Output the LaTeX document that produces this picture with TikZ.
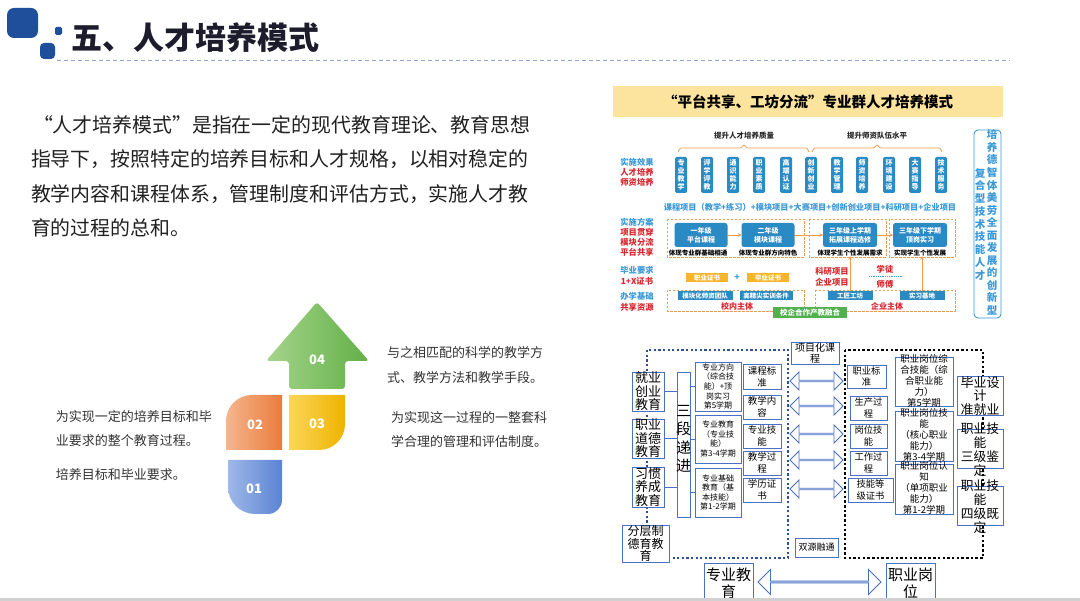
\documentclass[tikz,border=0pt]{standalone}
\usepackage{fontspec}
\setmainfont{Noto Sans CJK SC}
\usetikzlibrary{shapes.arrows,arrows.meta,calc}
\newcommand\fsz[2]{\fontsize{#1}{#2}\selectfont}
\definecolor{logo}{HTML}{1F4E9A}
\definecolor{ttl}{HTML}{1C1C2C}
\definecolor{dashc}{HTML}{8DA3C9}
\definecolor{cb}{HTML}{2A8AC4}
\definecolor{lb}{HTML}{3A9AD9}
\definecolor{rd}{HTML}{D7282F}
\definecolor{og}{HTML}{F29A4B}
\definecolor{certc}{HTML}{F7B52C}
\definecolor{gr}{HTML}{52B04E}
\definecolor{ban}{HTML}{FCE39E}
\definecolor{bx}{HTML}{4A72C4}
\definecolor{dotb}{HTML}{2D4E9C}
\definecolor{gA}{HTML}{A5D48C}
\definecolor{gB}{HTML}{62B046}
\definecolor{oA}{HTML}{F4B68E}
\definecolor{oB}{HTML}{EB7B3C}
\definecolor{yA}{HTML}{FAD65A}
\definecolor{yB}{HTML}{EFB300}
\definecolor{bA}{HTML}{9FB8E8}
\definecolor{bB}{HTML}{5A83D4}
\begin{document}
\begin{tikzpicture}[x=1pt,y=-1pt,
  every node/.style={inner sep=0pt, outer sep=0pt},
  para/.style={anchor=west, text=black!87, font=\fsz{19.9}{24}},
  side/.style={anchor=west, text=black!80, font=\fsz{13}{15}},
  num/.style={text=white, font=\fsz{13}{15}\bfseries},
  cl/.style={font=\fsz{8.3}{9}\bfseries, text=lb},
  cr/.style={font=\fsz{8.3}{9}\bfseries, text=rd},
  vbox/.style={fill=cb, rounded corners=1.5pt, minimum width=12pt, minimum height=36pt, text=white, font=\fsz{7}{8}\bfseries, align=center},
  ybox/.style={fill=cb, rounded corners=2.5pt, minimum width=53pt, minimum height=24pt, text=white, font=\fsz{7}{9}\bfseries, align=center},
  capt/.style={font=\fsz{6.5}{7}\bfseries, text=black, fill=white, inner xsep=1pt},
  odash/.style={draw=og, dash pattern=on 2.5pt off 1.5pt, line width=0.6pt},
  oarr/.style={draw=og, line width=0.8pt, -{Stealth[length=3.5pt,width=3.5pt]}},
  certbox/.style={fill=certc, minimum width=42pt, minimum height=9pt, text=white, font=\fsz{6.5}{7}\bfseries},
  sbox/.style={fill=cb, minimum height=9pt, text=white, font=\fsz{6.5}{7}\bfseries},
  bb/.style={draw=bx, line width=0.9pt, fill=white, align=center, text=black},
  darr/.style={double arrow, draw=bx, fill=white, line width=0.9pt, inner sep=0pt, double arrow head extend=5pt, minimum width=18pt},
  lnk/.style={draw=bx, line width=0.8pt}
]
\useasboundingbox (0,0) rectangle (1080,601);
\fill[white] (0,0) rectangle (1080,601);

% ---------- title ----------
\fill[logo, rounded corners=7pt] (7,8) rectangle (38,38);
\fill[logo, rounded corners=1.5pt] (55,27) rectangle (62,35);
\fill[logo, rounded corners=4pt] (40,43) rectangle (55,59);
\node[anchor=west, font=\fsz{31}{34}\bfseries, text=ttl] (title) at (71,38) {五、人才培养模式};
\draw[dashc, line width=0.9pt, dash pattern=on 4pt off 3pt] (57,60) -- (1010,60);

% ---------- paragraph ----------
\node[para] (p1) at (33,125) {“人才培养模式”是指在一定的现代教育理论、教育思想};
\node[para] (p2) at (31,159) {指导下，按照特定的培养目标和人才规格，以相对稳定的};
\node[para] (p3) at (31,194) {教学内容和课程体系，管理制度和评估方式，实施人才教};
\node[para] (p4) at (31,228) {育的过程的总和。};

% ---------- arrow blocks ----------
\shade[left color=gA, right color=gB, rounded corners=3pt]
  (289,389) -- (289,361) -- (266,361) -- (317,302) -- (369,361) -- (345,361) -- (345,389) -- cycle;
\shade[left color=oA, right color=oB]
  (226,450) -- (226,421) .. controls (226,406.6) and (237.6,395) .. (252,395) -- (282,395) -- (282,450) -- cycle;
\shade[left color=yA, right color=yB]
  (289,395) -- (345,395) -- (345,424) .. controls (345,438.4) and (333.4,450) .. (319,450) -- (289,450) -- cycle;
\shade[left color=bA, right color=bB]
  (228,460) -- (282,460) -- (282,500) .. controls (282,507.7) and (275.7,514) .. (268,514) -- (255,514) .. controls (240.1,514) and (228,501.9) .. (228,487) -- cycle;
\node[num] (n4) at (317,360) {04};
\node[num] (n2) at (255,425) {02};
\node[num] (n3) at (317,424) {03};
\node[num] (n1) at (254,489) {01};

\node[side] (s4a) at (387,353) {与之相匹配的科学的教学方};
\node[side] (s4b) at (387,378) {式、教学方法和教学手段。};
\node[side] (s3a) at (391,418) {为实现这一过程的一整套科};
\node[side] (s3b) at (391,442) {学合理的管理和评估制度。};
\node[side] (s2a) at (56,417) {为实现一定的培养目标和毕};
\node[side] (s2b) at (56,441) {业要求的整个教育过程。};
\node[side] (s1) at (56,475) {培养目标和毕业要求。};

% ---------- top-right chart ----------
\fill[ban] (613,86) rectangle (1003,117);
\node[font=\fsz{14.5}{16}\bfseries, text=black] (ct) at (808,102) {“平台共享、工坊分流”专业群人才培养模式};

\node[font=\fsz{7.5}{8}\bfseries, text=black!85] (h1) at (744,136) {提升人才培养质量};
\node[font=\fsz{7.5}{8}\bfseries, text=black!85] (h2) at (877,136) {提升师资队伍水平};
\draw[og, line width=0.7pt, rounded corners=1pt] (678,152) -- (680,148) -- (741,148) -- (744,144.5) -- (747,148) -- (807,148) -- (809,152);
\draw[og, line width=0.7pt, rounded corners=1pt] (812,152) -- (814,148) -- (874,148) -- (877,144.5) -- (880,148) -- (940,148) -- (942,152);

\node[cl] (l1) at (637,162) {实施效果};
\node[cr] (l2) at (637,172) {人才培养};
\node[cr] (l3) at (637,182) {师资培养};

\foreach \x/\txt [count=\i] in {681/专\\业\\教\\学, 707/评\\学\\评\\教, 733/通\\识\\能\\力, 759/职\\业\\素\\质, 786/高\\端\\认\\证, 811/创\\新\\创\\业, 837/教\\学\\管\\理, 862/师\\资\\培\\养, 889/环\\境\\建\\设, 915/大\\赛\\指\\导, 941/技\\术\\服\\务}
  {\node[vbox] (v\i) at (\x,175) {\txt};}

\node[font=\fsz{8.2}{9}\bfseries, text=lb] (proj) at (810,207) {课程项目（教学+练习）+模块项目+大赛项目+创新创业项目+科研项目+企业项目};

\node[cl] (l4) at (637,222) {实施方案};
\node[cr] (l5) at (637,232) {项目贯穿};
\node[cr] (l6) at (637,242) {模块分流};
\node[cr] (l7) at (637,252) {平台共享};

\draw[odash] (667,219) rectangle (804,257);
\draw[odash] (809,219) rectangle (886,257);
\draw[odash] (889,219) rectangle (955,257);

\node[ybox] (b1) at (701,235) {一年级\\平台课程};
\node[ybox] (b2) at (768,235) {二年级\\模块课程};
\node[ybox, minimum width=54pt] (b3) at (850,235) {三年级上学期\\拓展课程选修};
\node[ybox, minimum width=54pt] (b4) at (920,235) {三年级下学期\\顶岗实习};
\draw[oarr] (b1) -- (b2);
\draw[oarr] (b2) -- (b3);
\draw[oarr] (b3) -- (b4);

\node[capt] (c1) at (698,253) {体现专业群基础相通};
\node[capt] (c2) at (768,253) {体现专业群方向特色};
\node[capt] (c3) at (850,253) {体现学生个性发展需求};
\node[capt] (c4) at (920,253) {实现学生个性发展};

\node[cl] (l8) at (637,270) {毕业要求};
\node[cr] (l9) at (637,281) {1+X证书};
\node[certbox] (zs) at (707,278) {职业证书};
\node[font=\fsz{9}{9}\bfseries, text=lb] (plus) at (737,278) {+};
\node[certbox] (bs) at (768,278) {毕业证书};

\node[cr] (ky1) at (832,271) {科研项目};
\node[cr] (ky2) at (832,282) {企业项目};
\node[cr] (xt) at (885,269) {学徒};
\node[cr] (sf) at (885,284) {师傅};
\coordinate (dl) at (869,276);
\coordinate (dr) at (902,276);
\draw[lb, line width=0.6pt, dash pattern=on 0.8pt off 1pt] (dl) -- (dr);

\node[cl] (l10) at (637,296) {办学基础};
\node[cr] (l11) at (637,307) {共享资源};

\draw[odash] (667,290) rectangle (804,311);
\draw[odash] (815,290) rectangle (955,311);
\node[sbox, minimum width=55pt] (ms) at (705,296) {模块化师资团队};
\node[sbox, minimum width=53pt] (gj2) at (766,296) {高精尖实训条件};
\node[sbox, minimum width=45pt] (gj) at (850,296) {工匠工坊};
\node[sbox, minimum width=45pt] (sx) at (922,296) {实习基地};
\node[font=\fsz{8}{9}\bfseries, text=rd] (xn) at (737,306) {校内主体};
\node[font=\fsz{8}{9}\bfseries, text=rd] (qy) at (887,306) {企业主体};
\node[fill=gr, minimum width=74pt, minimum height=11pt, text=white, font=\fsz{7.5}{8}\bfseries] (xq) at (810,312.5) {校企合作产教融合};
\draw[oarr] (gj.north) -- (gj.north |- c3.south);
\draw[oarr] (sx.north) -- (sx.north |- c4.south);

\draw[lb, line width=0.9pt, rounded corners=4pt] (974,130) rectangle (1001,318);
\node[font=\fsz{10.5}{12.55}\bfseries, text=lb, align=center] (rv1) at (992,222.5) {培\\养\\德\\智\\体\\美\\劳\\全\\面\\发\\展\\的\\创\\新\\型};
\node[font=\fsz{10.5}{12.75}\bfseries, text=lb, align=center] (rv2) at (980,224) {复\\合\\型\\技\\术\\技\\能\\人\\才};

% ---------- bottom-right diagram ----------
\draw[dotb, line width=2.2pt, dash pattern=on 2.2pt off 2.4pt] (668,558) -- (788,558) -- (788,350) -- (647,350) -- (647,525);
\draw[black, line width=2.5pt, dash pattern=on 2.5pt off 2.2pt] (845,350) rectangle (983,558);

\node[bb, minimum width=48pt, minimum height=22pt, font=\fsz{10}{11.5}] (xm) at (815,353) {项目化课\\程};

\node[bb, minimum width=32pt, minimum height=39pt, font=\fsz{13}{13.5}] (jy) at (648,391.5) {就业\\创业\\教育};
\node[bb, minimum width=32pt, minimum height=39pt, font=\fsz{13}{13.5}] (zd) at (648,438.5) {职业\\道德\\教育};
\node[bb, minimum width=32pt, minimum height=40pt, font=\fsz{13}{13.5}] (xg) at (648,487) {习惯\\养成\\教育};
\node[bb, minimum width=13pt, minimum height=145pt] (sd) at (683.5,444.5) {};
\node[font=\fsz{15}{18.5}, align=center] (sdt) at (683.5,439) {三\\段\\递\\进};

\node[bb, minimum width=46pt, minimum height=49pt, font=\fsz{8}{9.6}] (m1) at (718,386.5) {专业方向\\（综合技\\能）+顶\\岗实习\\第5学期};
\node[bb, minimum width=46pt, minimum height=48pt, font=\fsz{8}{9.6}] (m2) at (718,439) {专业教育\\（专业技\\能）\\第3-4学期};
\node[bb, minimum width=46pt, minimum height=49pt, font=\fsz{8}{9.6}] (m3) at (718,492.5) {专业基础\\教育（基\\本技能）\\第1-2学期};

\draw[lnk] (jy.east) -- (jy.east -| sd.west);
\draw[lnk] (zd.east) -- (zd.east -| sd.west);
\draw[lnk] (xg.east) -- (xg.east -| sd.west);
\draw[lnk] (sd.east |- m1.west) -- (m1.west);
\draw[lnk] (sd.east |- m2.west) -- (m2.west);
\draw[lnk] (sd.east |- m3.west) -- (m3.west);

\node[bb, minimum width=38pt, minimum height=25pt, font=\fsz{9.5}{12}] (r1) at (762,376.5) {课程标\\准};
\node[bb, minimum width=38pt, minimum height=24pt, font=\fsz{9.5}{12}] (r2) at (762,407) {教学内\\容};
\node[bb, minimum width=38pt, minimum height=24pt, font=\fsz{9.5}{12}] (r3) at (762,436) {专业技\\能};
\node[bb, minimum width=38pt, minimum height=24pt, font=\fsz{9.5}{12}] (r4) at (762,463) {教学过\\程};
\node[bb, minimum width=38pt, minimum height=24pt, font=\fsz{9.5}{12}] (r5) at (762,490) {学历证\\书};

\foreach \yy [count=\i] in {381,406,434,460,489}
  {\node[darr, minimum height=53pt] (da\i) at (816.5,\yy) {};}

\node[bb, minimum width=47pt, minimum height=37pt, font=\fsz{12}{12.5}] (fc) at (645.5,543.5) {分层制\\德育教\\育};
\node[bb, minimum width=43pt, minimum height=19pt, font=\fsz{9}{10}] (sy) at (816.5,547.5) {双源融通};

\node[bb, minimum width=39pt, minimum height=23pt, font=\fsz{9.3}{11.5}] (z1) at (866.5,376.5) {职业标\\准};
\node[bb, minimum width=37pt, minimum height=24pt, font=\fsz{9.3}{11.5}] (z2) at (868.5,408) {生产过\\程};
\node[bb, minimum width=37pt, minimum height=24pt, font=\fsz{9.3}{11.5}] (z3) at (868.5,436) {岗位技\\能};
\node[bb, minimum width=37pt, minimum height=24pt, font=\fsz{9.3}{11.5}] (z4) at (868.5,463) {工作过\\程};
\node[bb, minimum width=45pt, minimum height=24pt, font=\fsz{9.3}{11.5}] (z5) at (870.5,490) {技能等\\级证书};

\node[bb, minimum width=58pt, minimum height=49pt] (w1) at (924,381.5) {};
\node[font=\fsz{9.5}{11}, align=center] (w1t) at (924,380.5) {职业岗位综\\合技能（综\\合职业能\\力）\\第5学期};
\node[bb, minimum width=58pt, minimum height=50pt] (w2) at (924,436) {};
\node[font=\fsz{9.5}{11}, align=center] (w2t) at (924,435) {职业岗位技\\能\\（核心职业\\能力）\\第3-4学期};
\node[bb, minimum width=58pt, minimum height=50pt] (w3) at (924,489) {};
\node[font=\fsz{9.5}{11}, align=center] (w3t) at (924,488) {职业岗位认\\知\\（单项职业\\能力）\\第1-2学期};

\node[bb, minimum width=46pt, minimum height=38pt, font=\fsz{13}{13.5}] (g1) at (980,396) {毕业设\\计\\准就业};
\node[bb, minimum width=46pt, minimum height=39pt] (g2) at (980,448.5) {};
\node[font=\fsz{12.8}{14}, align=center] (g2t) at (980,450) {职业技\\能\\三级鉴\\定};
\node[bb, minimum width=46pt, minimum height=39pt] (g3) at (980,505.5) {};
\node[font=\fsz{12.8}{14}, align=center] (g3t) at (980,507) {职业技\\能\\四级既\\定};

\node[bb, minimum width=49pt, minimum height=40pt, anchor=north, font=\fsz{15}{17}] (zy) at (728.5,563) {专业教\\育};
\node[bb, minimum width=49pt, minimum height=40pt, anchor=north, font=\fsz{15}{17}] (zg) at (910.5,563) {职业岗\\位};
\node[darr, minimum width=25pt, double arrow head extend=6.5pt, minimum height=123pt] (dab) at ($(zy.east)!0.5!(zg.west)+(0,-1)$) {};

\fill[black!18] (0,598) rectangle (1080,601);
\end{tikzpicture}
\end{document}
